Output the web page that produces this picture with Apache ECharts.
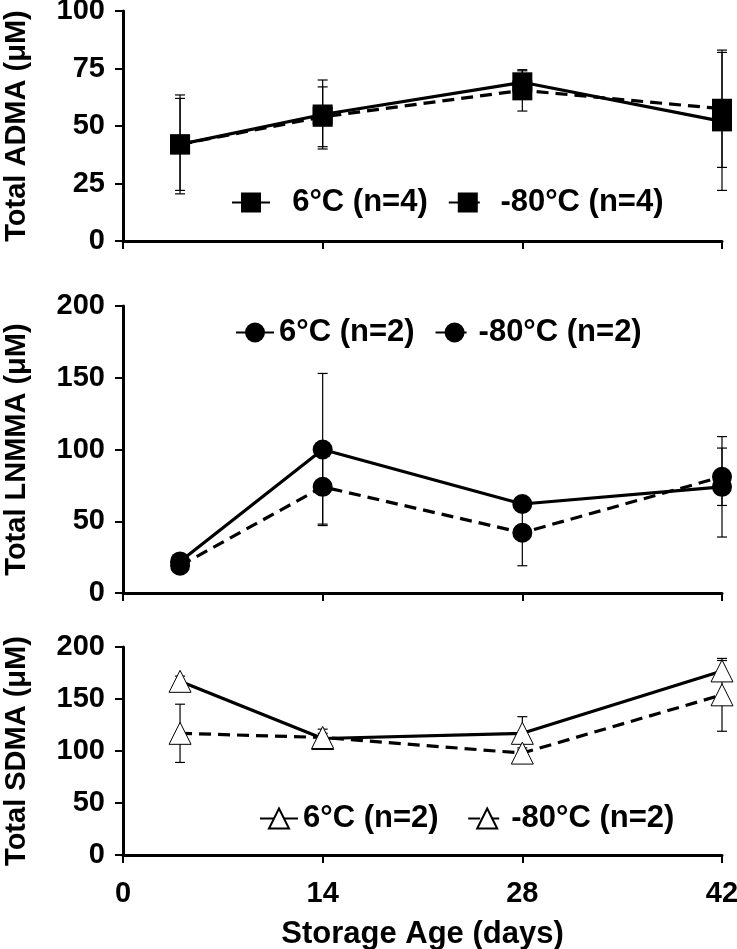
<!DOCTYPE html>
<html><head><meta charset="utf-8">
<script src="https://cdn.jsdelivr.net/npm/echarts@6/dist/echarts.min.js"></script>
<style>html,body{margin:0;padding:0;background:#fff}#c{width:737px;height:949px}</style>
</head><body><div id="c"></div>
<script>
// ---- data ----
const days = [4, 14, 28, 42];
const xTicks = [0, 14, 28, 42];
const admaTicks = [0, 25, 50, 75, 100];
const lnmmaTicks = [0, 50, 100, 150, 200];
const sdmaTicks = [0, 50, 100, 150, 200];

const adma6 = [42, 55, 69, 52];
const adma6Err = [21.5, 15, 5, 30];
const adma80 = [42, 54, 65.5, 57.5];
const adma80Err = [20, 13, 9, 25.5];

const lnmma6 = [22, 100, 62, 74];
const lnmma6Err = [3, 53, 5, 35];
const lnmma80 = [19, 74, 42, 81];
const lnmma80Err = [3, 26, 23, 20];

const sdma6 = [167, 112, 117, 177];
const sdma6Err = [5, 5, 16, 10];
const sdma80 = [117, 113, 98, 154];
const sdma80Err = [28, 8, 5, 35];

const legendADMA = ['  6°C (n=4)', ' -80°C (n=4)'];
const legendLNMMA = ['6°C (n=2)', '-80°C (n=2)'];
const legendSDMA = ['6°C (n=2) ', '-80°C (n=2) '];

// ---- styles ----
const FONT = "'Liberation Sans',Arial,Helvetica,sans-serif";

const chart = echarts.init(document.getElementById('c'));

function pts(vals){ return vals.map((v,i)=>[days[i], v]); }

function errSeries(idx, vals, errs){
  return {
    type:'custom', xAxisIndex: idx, yAxisIndex: idx, z: 1, silent: true,
    data: vals.map((v,i)=>[days[i], v-errs[i], v+errs[i]]),
    encode: {x:0, y:[1,2]},
    renderItem: function(params, api){
      const lo = api.coord([api.value(0), api.value(1)]);
      const hi = api.coord([api.value(0), api.value(2)]);
      const w = 5;
      const style = {stroke:'#000', lineWidth:1.2, fill:null};
      return {type:'group', children:[
        {type:'line', shape:{x1:hi[0],y1:hi[1],x2:lo[0],y2:lo[1]}, style:style},
        {type:'line', shape:{x1:hi[0]-w,y1:hi[1],x2:hi[0]+w,y2:hi[1]}, style:style},
        {type:'line', shape:{x1:lo[0]-w,y1:lo[1],x2:lo[0]+w,y2:lo[1]}, style:style}
      ]};
    }
  };
}

function lineSeries(idx, name, vals, symbol, size, dashed, hollow){
  return {
    type:'line', name:name, xAxisIndex: idx, yAxisIndex: idx, z: 3,
    data: pts(vals), symbol: symbol, symbolSize: size, showSymbol:true,
    animation:false,
    lineStyle:{color:'#000', width:3.2, type: dashed ? [12,7] : 'solid'},
    itemStyle: hollow ? {color:'#fff', borderColor:'#000', borderWidth:1} : {color:'#000', borderWidth:0}
  };
}

const grids = [
  {left:123, right:15, top:11, height:230, outerBoundsMode:'none', containLabel:false},
  {left:123, right:15, top:306, height:287, outerBoundsMode:'none', containLabel:false},
  {left:123, right:15, top:647, height:208, outerBoundsMode:'none', containLabel:false}
];

function xAxis(idx, showLabel){
  return {
    type:'value', gridIndex: idx, min:0, max:42, interval:14,
    axisLine:{show:true, onZero:false, lineStyle:{color:'#000', width:3}},
    axisTick:{show:true, inside:false, length:8, lineStyle:{color:'#000', width:2}},
    splitLine:{show:false},
    axisLabel:{show:showLabel, color:'#000', fontFamily:FONT, fontWeight:'bold', fontSize:29, margin:24,
      formatter: v => xTicks.includes(v) ? String(v) : ''},
    name: showLabel ? 'Storage Age (days)' : '',
    nameLocation:'middle', nameGap:64,
    nameTextStyle:{color:'#000', fontFamily:FONT, fontWeight:'bold', fontSize:31}
  };
}

function yAxis(idx, max, interval, name, ticks){
  return {
    type:'value', gridIndex: idx, min:0, max:max, interval:interval,
    axisLine:{show:true, onZero:false, lineStyle:{color:'#000', width:3}},
    axisTick:{show:true, inside:false, length:8, lineStyle:{color:'#000', width:2}},
    splitLine:{show:false},
    axisLabel:{color:'#000', fontFamily:FONT, fontWeight:'bold', fontSize:29, margin:18,
      formatter: v => ticks.includes(v) ? String(v) : ''},
    name:name, nameLocation:'middle', nameGap:92, nameRotate:90,
    nameTextStyle:{color:'#000', fontFamily:FONT, fontWeight:'bold', fontSize:29}
  };
}

function legend(data, left, top){
  return {
    data: data, left:left, top:top, orient:'horizontal',
    itemWidth:38, itemHeight:25, itemGap:20,
    textStyle:{color:'#000', fontFamily:FONT, fontWeight:'bold', fontSize:31},
    selectedMode:false
  };
}

chart.setOption({
  animation:false,
  backgroundColor:'#fff',
  grid: grids,
  xAxis: [xAxis(0,false), xAxis(1,false), xAxis(2,true)],
  yAxis: [
    yAxis(0, 100, 25, 'Total ADMA (μM)', admaTicks),
    yAxis(1, 200, 50, 'Total LNMMA (μM)', lnmmaTicks),
    yAxis(2, 200, 50, 'Total SDMA (μM)', sdmaTicks)
  ],
  legend: [
    legend(legendADMA, 226, 182),
    legend(legendLNMMA, 230, 312),
    legend(legendSDMA, 254, 798)
  ],
  series: [
    errSeries(0, adma6, adma6Err),
    errSeries(0, adma80, adma80Err),
    lineSeries(0, legendADMA[0], adma6, 'rect', 20, false, false),
    lineSeries(0, legendADMA[1], adma80, 'rect', 20, true, false),
    errSeries(1, lnmma6, lnmma6Err),
    errSeries(1, lnmma80, lnmma80Err),
    lineSeries(1, legendLNMMA[0], lnmma6, 'circle', 20, false, false),
    lineSeries(1, legendLNMMA[1], lnmma80, 'circle', 20, true, false),
    errSeries(2, sdma6, sdma6Err),
    errSeries(2, sdma80, sdma80Err),
    lineSeries(2, legendSDMA[0], sdma6, 'triangle', 22, false, true),
    lineSeries(2, legendSDMA[1], sdma80, 'triangle', 22, true, true)
  ]
});
</script>
</body></html>
